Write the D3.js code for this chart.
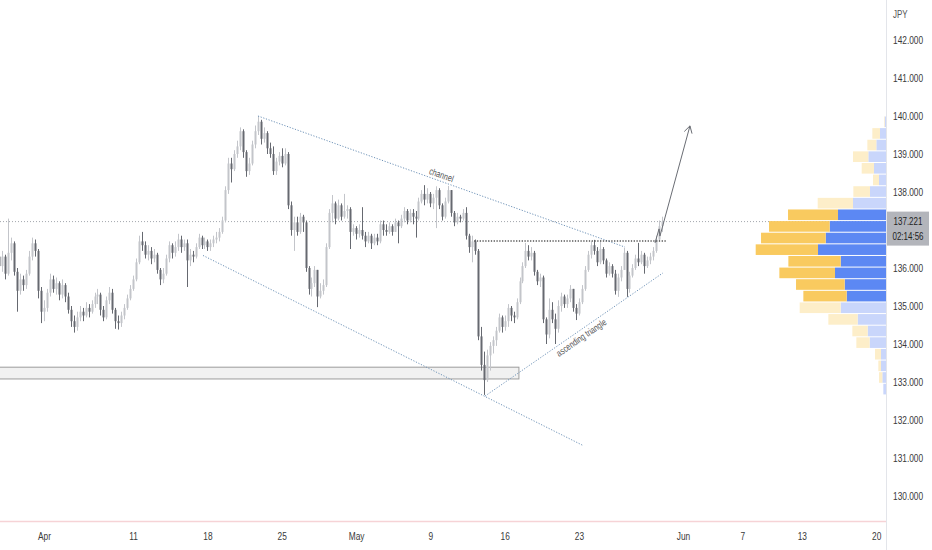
<!DOCTYPE html>
<html><head><meta charset="utf-8">
<script src="https://cdn.jsdelivr.net/npm/d3@7"></script>
<style>
body{margin:0;background:#fff;overflow:hidden;}
svg{display:block;}
text{font-family:"Liberation Sans",Roboto,sans-serif;}
</style>
</head><body>
<svg id="c" width="932" height="550"></svg>
<script>
// ---------- DATA ----------
const firstOpen = 136.30;
const closes = [
136.05,136.30,135.85,136.40,136.65,135.90,135.40,135.70,135.55,135.85,
136.30,136.65,136.45,135.40,134.85,134.95,135.35,135.70,135.45,135.60,
135.30,135.55,135.25,134.90,134.60,134.45,134.70,134.85,134.75,134.95,
134.85,135.05,135.25,135.30,134.90,134.70,135.15,135.35,134.90,134.60,
134.55,134.75,134.95,135.20,135.45,135.70,136.15,136.70,136.60,136.35,
136.45,136.25,136.35,135.95,135.70,135.85,136.25,136.60,136.40,136.55,
136.75,136.55,136.65,136.20,136.35,136.30,136.55,136.80,136.60,136.70,
136.55,136.65,136.75,136.80,136.95,137.25,138.05,138.75,138.60,139.00,
139.20,139.60,139.05,138.55,138.75,139.25,139.60,139.85,139.40,139.55,
139.15,139.00,138.55,138.80,138.95,138.75,139.00,137.65,137.00,137.20,
136.95,137.35,137.20,136.00,135.45,135.60,135.95,135.25,135.40,135.55,
136.55,137.45,137.70,137.30,137.65,137.35,137.50,137.55,136.95,137.05,
136.90,137.00,136.85,136.70,136.85,136.65,136.80,136.70,137.15,137.00,
136.95,137.10,136.95,137.20,137.10,137.30,137.50,137.25,137.45,137.35,
137.30,137.75,137.95,137.80,137.95,137.70,137.85,138.05,137.65,137.35,
137.75,138.05,137.45,137.20,137.35,137.30,137.45,136.85,136.55,136.70,
136.45,134.20,133.45,133.05,133.70,133.95,134.10,134.35,134.70,134.45,
134.60,134.95,134.75,134.70,135.10,135.65,136.05,136.45,136.30,136.40,
135.90,135.65,135.75,134.65,134.25,134.90,134.65,134.40,135.00,135.25,
135.05,135.20,135.45,134.95,134.80,135.10,135.45,135.95,136.35,136.60,
136.45,136.15,136.50,136.20,135.85,136.05,135.85,135.40,135.75,135.95,
136.40,135.45,135.80,136.00,136.25,136.15,136.35,136.05,136.20,136.30,
136.45,136.75,137.10,137.221];
const highs = [
136.35,136.45,136.35,137.30,136.80,136.70,136.00,135.85,135.80,135.95,
136.45,136.80,136.75,136.50,135.50,135.15,135.45,135.85,135.80,135.75,
135.65,135.70,135.60,135.35,135.00,134.75,134.85,135.00,134.95,135.10,
135.05,135.15,135.35,135.45,135.35,135.00,135.25,135.50,135.45,134.95,
134.75,134.85,135.05,135.30,135.55,135.80,136.25,136.85,136.95,136.70,
136.60,136.55,136.50,136.40,136.00,136.00,136.35,136.70,136.65,136.70,
136.90,136.85,136.75,136.75,136.50,136.45,136.65,136.90,136.85,136.80,
136.75,136.75,136.85,136.95,137.05,137.35,138.15,138.90,138.90,139.10,
139.35,139.70,139.65,139.10,138.90,139.35,139.75,140.00,139.90,139.70,
139.60,139.30,139.20,138.90,139.05,139.15,139.15,139.05,137.75,137.35,
137.35,137.45,137.40,137.25,136.05,135.75,136.05,135.95,135.60,135.70,
136.65,137.55,137.92,137.75,137.80,137.70,137.95,137.65,137.60,137.15,
137.10,137.15,137.60,136.95,136.95,136.90,136.90,136.90,137.25,137.25,
137.15,137.20,137.15,137.30,137.25,137.40,137.60,137.55,137.55,137.55,
137.50,137.85,138.05,138.18,138.10,138.00,137.95,138.15,138.10,137.70,
137.85,138.16,138.05,137.50,137.45,137.40,137.55,137.60,136.90,136.85,
136.75,136.50,134.45,133.80,133.85,134.05,134.20,134.45,134.80,134.75,
134.75,135.05,135.00,134.85,135.20,135.75,136.15,136.66,136.60,136.55,
136.45,135.95,135.85,135.80,134.70,135.20,135.10,134.80,135.15,135.35,
135.30,135.30,135.55,135.45,135.05,135.20,135.55,136.05,136.45,136.70,
136.74,136.55,136.74,136.55,136.25,136.15,136.10,135.95,135.85,136.05,
136.53,136.45,135.90,136.10,136.35,136.66,136.45,136.40,136.30,136.40,
136.55,136.85,137.25,137.35];
const lows = [
135.65,135.90,135.70,135.80,136.20,135.80,134.85,135.30,135.40,135.45,
135.80,136.20,136.30,135.20,134.55,134.60,134.85,135.25,135.35,135.30,
135.15,135.20,135.10,134.80,134.45,134.30,134.35,134.60,134.60,134.70,
134.70,134.80,134.95,135.05,134.75,134.60,134.65,135.05,134.80,134.40,
134.38,134.45,134.65,134.90,135.15,135.40,135.65,136.10,136.45,136.25,
136.20,136.10,136.15,135.85,135.55,135.60,135.80,136.15,136.25,136.30,
136.45,136.40,136.45,135.50,136.05,136.15,136.25,136.50,136.50,136.50,
136.45,136.45,136.55,136.65,136.70,136.90,137.20,137.95,138.25,138.55,
138.90,139.10,138.90,138.40,138.45,138.70,139.15,139.50,139.25,139.30,
139.00,138.90,138.45,138.45,138.70,138.65,138.70,137.55,136.85,136.45,
136.85,136.90,136.95,135.90,135.30,135.25,135.50,134.97,135.20,135.30,
135.50,136.50,137.20,137.15,137.25,137.25,137.30,137.30,136.50,136.85,
136.75,136.80,136.75,136.55,136.65,136.50,136.60,136.60,136.65,136.85,
136.85,136.90,136.85,136.95,136.65,137.05,137.20,137.15,137.20,137.15,
136.80,137.25,137.70,137.65,137.70,137.60,137.55,137.05,137.55,137.25,
137.30,137.70,137.35,137.10,137.15,137.20,137.25,136.75,136.40,136.15,
136.35,134.10,133.30,132.66,133.00,133.30,133.75,133.95,134.30,134.30,
134.35,134.45,134.60,134.55,134.65,135.05,135.60,136.00,136.20,136.20,
135.80,135.55,135.50,134.55,134.00,134.15,134.55,134.00,134.30,134.85,
134.95,134.95,135.10,134.85,134.63,134.75,135.05,135.40,135.90,136.25,
136.35,136.05,136.10,136.10,135.75,135.80,135.75,135.30,135.24,135.65,
135.95,135.24,135.35,135.75,135.95,136.05,136.10,135.85,136.00,136.10,
136.20,136.40,136.70,136.95];
const startDay = -3;          // trading-day index of first bar (Apr 1 = 0)
const barsPerDay = 5;

const tickDays   = [0, 6, 11, 16, 21, 26, 31, 36, 43, 47, 51, 56];
const tickLabels = ["Apr","11","18","25","May","9","16","23","Jun","7","13","20"];
const priceTicks = [130,131,132,133,134,135,136,138,139,140,141,142]; // 137 hidden behind price tag
const currency = "JPY";
const lastPrice = 137.221;
const countdown = "02:14:56";

// volume profile (top row first)
const vpHigh = 140.00, vpLow = 132.66;
const vpUp   = [4,18,29,53,36,21,48,99,144,169,181,204,136,153,124,118,136,85,55,49,15,15,11,8];
const vpDown = [2,23,27,46,37,18,50,106,150,182,194,187,157,167,146,130,123,88,46,40,18,8,10,0];
const vpValueArea = [8,9,10,11,12,13,14,15];

// drawings: [tradingDay, price]
const channelUpper = [[14.40,140.00],[39.10,136.55]];
const channelLower = [[10.70,136.33],[36.27,131.33]];
const triangleTop  = [[28.94,136.71],[41.92,136.71]];
const triangleLow  = [[29.68,132.63],[41.65,135.87]];
const zoneDays = [-4, 31.96], zonePrices = [133.39, 133.08];
const arrowPath = [[41.12,136.66],[41.39,137.03],[41.45,136.84],[43.47,139.74]];
const labelChannel = {day: 26.6, text: "channel"};
const labelTriangle = {day: 35.9, text: "ascending triangle"};

// ---------- LAYOUT ----------
const W = 932, H = 550;
const axisX = 886, axisY = 521;
const sx = 0.76; // horizontal text compression (as in reference)

const svg = d3.select("#c");
const x = d3.scaleLinear().domain([0, 56]).range([44, 44 + 56*14.86]);
const y = d3.scaleLinear().domain([130, 142]).range([496, 40]);

const bars = closes.map((c,i)=>({
  d: startDay + i/barsPerDay,
  o: i===0 ? firstOpen : closes[i-1],
  c: c, h: highs[i], l: lows[i]
}));

const plot = svg.append("g");
plot.append("clipPath").attr("id","clip").append("rect").attr("x",0).attr("y",0).attr("width",axisX).attr("height",axisY);
const P = plot.append("g").attr("clip-path","url(#clip)");

// support zone
P.append("rect")
  .attr("x", x(zoneDays[0])).attr("y", y(zonePrices[0]))
  .attr("width", x(zoneDays[1]) - x(zoneDays[0]))
  .attr("height", y(zonePrices[1]) - y(zonePrices[0]))
  .attr("fill","#f1f1f1").attr("stroke","#9c9c9c").attr("stroke-width",1);

// current price dotted line
P.append("line").attr("x1",0).attr("x2",axisX).attr("y1",y(lastPrice)).attr("y2",y(lastPrice))
  .attr("stroke","#a3a6ad").attr("stroke-width",1).attr("stroke-dasharray","1,2");

// candles
const upCol = "#c3c5ca", dnCol = "#666970";
const cg = P.append("g");
cg.selectAll("line.w").data(bars).join("line")
  .attr("x1",d=>Math.round(x(d.d))+0.5).attr("x2",d=>Math.round(x(d.d))+0.5)
  .attr("y1",d=>y(d.h)).attr("y2",d=>y(d.l))
  .attr("stroke",d=>d.c>=d.o?upCol:dnCol).attr("stroke-width",1);
cg.selectAll("rect.b").data(bars).join("rect")
  .attr("x",d=>Math.round(x(d.d))-0.5).attr("width",2)
  .attr("y",d=>y(Math.max(d.o,d.c)))
  .attr("height",d=>Math.max(1, Math.abs(y(d.o)-y(d.c))))
  .attr("fill",d=>d.c>=d.o?upCol:dnCol);

// drawings
const line = d3.line().x(d=>x(d[0])).y(d=>y(d[1]));
const blueDot = "#6f93b8";
P.append("path").attr("d",line(channelUpper)).attr("fill","none").attr("stroke",blueDot).attr("stroke-width",1).attr("stroke-dasharray","1.2,1.6");
P.append("path").attr("d",line(channelLower)).attr("fill","none").attr("stroke",blueDot).attr("stroke-width",1).attr("stroke-dasharray","1.2,1.6");
P.append("path").attr("d",line(triangleLow)).attr("fill","none").attr("stroke",blueDot).attr("stroke-width",1).attr("stroke-dasharray","1.2,1.6");
P.append("path").attr("d",line(triangleTop)).attr("fill","none").attr("stroke","#555").attr("stroke-width",1.3).attr("stroke-dasharray","1.3,1.5");

function lineLabel(seg, day, text, offset){
  const x1=x(seg[0][0]), y1=y(seg[0][1]), x2=x(seg[1][0]), y2=y(seg[1][1]);
  const ang = Math.atan2(y2-y1, x2-x1);
  const px = x(day), py = y1 + (px-x1)*(y2-y1)/(x2-x1);
  const nx = Math.sin(ang), ny = -Math.cos(ang);
  P.append("text")
    .attr("transform",`translate(${px+nx*offset},${py+ny*offset}) rotate(${ang*180/Math.PI}) scale(${sx},1)`)
    .attr("text-anchor","middle").attr("font-size",9.5).attr("fill","#555").text(text);
}
lineLabel(channelUpper, labelChannel.day, labelChannel.text, 3);
lineLabel(triangleLow, labelTriangle.day, labelTriangle.text, -10);

// arrow
P.append("path").attr("d",line(arrowPath)).attr("fill","none").attr("stroke","#6a6d74").attr("stroke-width",1);
{
  const a = arrowPath[arrowPath.length-2], b = arrowPath[arrowPath.length-1];
  const bx=x(b[0]), by=y(b[1]);
  const ang = Math.atan2(by-y(a[1]), bx-x(a[0]));
  const L=8, sp=Math.PI/6;
  const p1=[bx-L*Math.cos(ang-sp), by-L*Math.sin(ang-sp)];
  const p2=[bx-L*Math.cos(ang+sp), by-L*Math.sin(ang+sp)];
  P.append("path").attr("d",`M${p1}L${bx},${by}L${p2}`).attr("fill","none").attr("stroke","#6a6d74").attr("stroke-width",1);
}

// volume profile
const vx = d3.scaleLinear().domain([0,400]).range([0,133.3]);
const rowH = (vpHigh - vpLow)/vpUp.length;
const rows = vpUp.map((u,i)=>({u, dn:vpDown[i], top:y(vpHigh - i*rowH), bot:y(vpHigh-(i+1)*rowH), va: vpValueArea.includes(i)}));
const vg = P.append("g");
vg.selectAll("rect.u").data(rows).join("rect")
  .attr("x",d=>axisX - vx(d.u)).attr("width",d=>vx(d.u))
  .attr("y",d=>d.top+0.5).attr("height",d=>d.bot-d.top-1)
  .attr("fill",d=>d.va?"#5c88f3":"#c9d6fb");
vg.selectAll("rect.d").data(rows).join("rect")
  .attr("x",d=>axisX - vx(d.u) - vx(d.dn)).attr("width",d=>vx(d.dn))
  .attr("y",d=>d.top+0.5).attr("height",d=>d.bot-d.top-1)
  .attr("fill",d=>d.va?"#f9ca5f":"#fdeec9");

// axes frame lines
svg.append("line").attr("x1",axisX+0.5).attr("x2",axisX+0.5).attr("y1",0).attr("y2",H).attr("stroke","#e3e5ea");
svg.append("line").attr("x1",0).attr("x2",axisX).attr("y1",axisY+0.5).attr("y2",axisY+0.5).attr("stroke","#f6d3d6").attr("stroke-width",1.5);

// right axis
svg.append("g").attr("transform",`translate(${axisX},0)`)
  .call(d3.axisRight(y).tickValues(priceTicks).tickFormat(d3.format(".3f")).tickSize(0).tickPadding(0))
  .call(g=>g.select(".domain").remove())
  .call(g=>g.selectAll("text").attr("x",7/sx).attr("transform",`scale(${sx},1)`)
      .attr("fill","#3a3a3a").attr("font-size",11).attr("font-family",null));

// bottom axis
svg.append("g").attr("transform",`translate(0,${axisY})`)
  .call(d3.axisBottom(x).tickValues(tickDays).tickFormat((d,i)=>tickLabels[i]).tickSize(0).tickPadding(0))
  .call(g=>g.select(".domain").remove())
  .call(g=>g.selectAll("text").attr("y",11).attr("transform",`scale(${sx},1)`)
      .attr("fill","#3a3a3a").attr("font-size",11).attr("font-family",null));

// currency label
svg.append("text").attr("transform",`translate(893,18) scale(${sx},1)`).attr("font-size",10.5).attr("fill","#555").text(currency);

// last price tag
const ly = y(lastPrice);
svg.append("rect").attr("x",axisX+1).attr("y",ly-10).attr("width",42).attr("height",34).attr("fill","#b3b5bb");
svg.append("text").attr("transform",`translate(${axisX+22},${ly+3.5}) scale(${sx},1)`).attr("text-anchor","middle")
  .attr("font-size",10.5).attr("fill","#222").text(d3.format(".3f")(lastPrice));
svg.append("text").attr("transform",`translate(${axisX+22},${ly+18.5}) scale(${sx},1)`).attr("text-anchor","middle")
  .attr("font-size",10.5).attr("fill","#222").text(countdown);
</script>
</body></html>
